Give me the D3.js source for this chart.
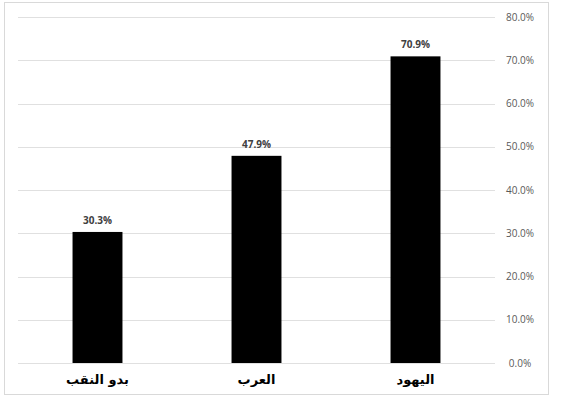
<!DOCTYPE html>
<html>
<head>
<meta charset="utf-8">
<script src="https://cdn.jsdelivr.net/npm/d3@7"></script>
<style>
  body { margin: 0; background: #fff; }
</style>
</head>
<body>
<div class="container"></div>
<script>
// Data
const categories = ["بدو النقب", "العرب", "اليهود"];
const values = [30.3, 47.9, 70.9];
const yTicks = [0, 10, 20, 30, 40, 50, 60, 70, 80];

// Dimensions
const w = 565;
const h = 407;
const plotLeft = 18, plotRight = 495, plotTop = 17, plotBottom = 363;

const svg = d3.select(".container")
  .append("svg")
  .attr("width", w)
  .attr("height", h);

// Outer frame
svg.append("rect")
  .attr("x", 4.5)
  .attr("y", 2.5)
  .attr("width", 544)
  .attr("height", 392)
  .attr("fill", "#fff")
  .attr("stroke", "#d9d9d9")
  .attr("stroke-width", 1);

// Scales
const xScale = d3.scaleBand()
  .domain(categories)
  .range([plotLeft, plotRight])
  .paddingInner(0.686)
  .paddingOuter(0.343);

const yScale = d3.scaleLinear()
  .domain([0, 80])
  .range([plotBottom, plotTop]);

// Gridlines
svg.append("g")
  .selectAll("line")
  .data(yTicks)
  .enter()
  .append("line")
  .attr("x1", plotLeft)
  .attr("x2", plotRight)
  .attr("y1", d => Math.round(yScale(d)) + 0.5)
  .attr("y2", d => Math.round(yScale(d)) + 0.5)
  .attr("stroke", "#e0e0e0")
  .attr("stroke-width", 1);

// Right axis
const yAxis = d3.axisRight(yScale)
  .tickValues(yTicks)
  .tickSize(0)
  .tickPadding(0)
  .tickFormat(d => d.toFixed(1) + "%");

svg.append("g")
  .attr("transform", `translate(520,0)`)
  .call(yAxis)
  .call(g => g.select(".domain").remove())
  .call(g => g.selectAll("text")
    .attr("text-anchor", "middle")
    .style("font-family", "'Open Sans', 'DejaVu Sans', sans-serif")
    .style("font-size", "10px")
    .attr("fill", "#595959"));

// Bars
svg.selectAll(".bar")
  .data(values)
  .enter()
  .append("rect")
  .attr("class", "bar")
  .attr("x", (d, i) => xScale(categories[i]))
  .attr("y", d => yScale(d))
  .attr("width", xScale.bandwidth())
  .attr("height", d => plotBottom - yScale(d))
  .attr("fill", "#000");

// Value labels
svg.selectAll(".val")
  .data(values)
  .enter()
  .append("text")
  .attr("class", "val")
  .attr("x", (d, i) => xScale(categories[i]) + xScale.bandwidth() / 2)
  .attr("y", d => yScale(d) - 8)
  .attr("text-anchor", "middle")
  .style("font-family", "'Open Sans', 'DejaVu Sans', sans-serif")
  .style("font-size", "10px")
  .style("font-weight", "bold")
  .attr("fill", "#404040")
  .text(d => d.toFixed(1) + "%");

// Category labels
svg.selectAll(".cat")
  .data(categories)
  .enter()
  .append("text")
  .attr("class", "cat")
  .attr("x", d => xScale(d) + xScale.bandwidth() / 2)
  .attr("y", 384)
  .attr("text-anchor", "middle")
  .attr("direction", "rtl")
  .style("font-family", "'DejaVu Sans', sans-serif")
  .style("font-size", "13px")
  .style("font-weight", "bold")
  .attr("fill", "#000")
  .text(d => d);
</script>
</body>
</html>
